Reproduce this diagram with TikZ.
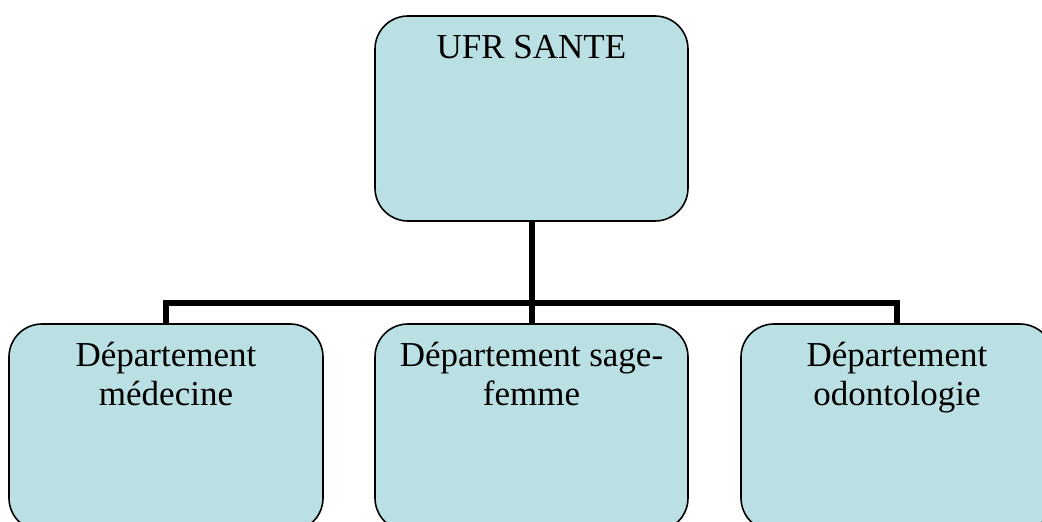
\documentclass[tikz,border=0pt]{standalone}
\usepackage{fontspec}
\setmainfont{Liberation Serif}
\definecolor{boxblue}{RGB}{186,224,227}
\tikzset{
  orgbox/.style={draw=black, line width=1.6pt, fill=boxblue, rounded corners=33pt, inner sep=0pt, anchor=center},
  conn/.style={draw=black, line width=6pt, line join=miter}
}
\newcommand{\boxtext}[3]{\begin{minipage}[t][#2pt][t]{#1pt}\centering\fontsize{35}{39}\selectfont\rule{0pt}{43pt}#3\end{minipage}}
\begin{document}
\begin{tikzpicture}[x=1pt,y=1pt]
\useasboundingbox (0,0) rectangle (1042,522);
\clip (0,0) rectangle (1042,522);
\node[orgbox] (top) at (531.5,403.5) {\boxtext{313}{205}{UFR SANTE}};
\node[orgbox] (c1) at (166,94.5) {\boxtext{314}{207}{Département\\médecine}};
\node[orgbox] (c2) at (531.5,94.5) {\boxtext{313}{207}{Département sage-\\femme}};
\node[orgbox] (c3) at (897,94.5) {\boxtext{312}{207}{Département\\odontologie}};
\coordinate (bus) at (531.5,219);
\draw[conn] (top.south) -- (bus);
\draw[conn] (c1.north) |- (bus) -| (c3.north);
\draw[conn] (bus) -- (c2.north);
\end{tikzpicture}
\end{document}
